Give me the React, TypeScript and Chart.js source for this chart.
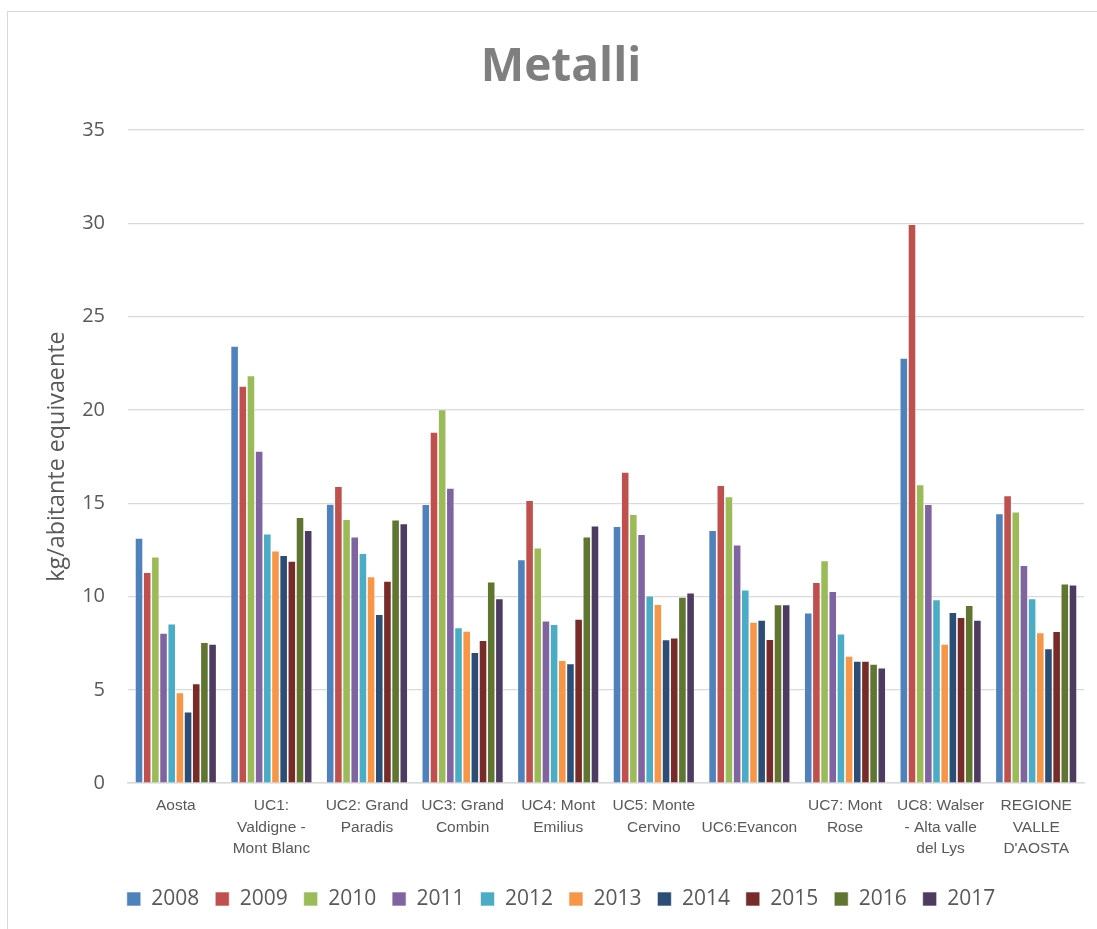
import React, { useEffect, useRef } from "react";
import { Chart, registerables } from "chart.js";

Chart.register(...registerables);

const categories: string[][] = [
  ["Aosta"],
  ["UC1:", "Valdigne -", "Mont Blanc"],
  ["UC2: Grand", "Paradis"],
  ["UC3: Grand", "Combin"],
  ["UC4: Mont", "Emilius"],
  ["UC5: Monte", "Cervino"],
  ["", "UC6:Evancon"],
  ["UC7: Mont", "Rose"],
  ["UC8: Walser", "- Alta valle", "del Lys"],
  ["REGIONE", "VALLE", "D'AOSTA"],
];

const years = ["2008", "2009", "2010", "2011", "2012", "2013", "2014", "2015", "2016", "2017"];

const v2008 = [13.14, 23.43, 14.96, 14.95, 11.98, 13.77, 13.55, 9.13, 22.79, 14.45];
const v2009 = [11.3, 21.29, 15.91, 18.82, 15.16, 16.68, 15.96, 10.77, 29.95, 15.41];
const v2010 = [12.13, 21.84, 14.14, 20.02, 12.61, 14.41, 15.36, 11.93, 16.0, 14.55];
const v2011 = [8.04, 17.8, 13.21, 15.82, 8.7, 13.34, 12.77, 10.29, 14.95, 11.68];
const v2012 = [8.54, 13.36, 12.32, 8.34, 8.52, 10.04, 10.36, 8.0, 9.84, 9.89];
const v2013 = [4.86, 12.46, 11.07, 8.16, 6.59, 9.59, 8.64, 6.82, 7.46, 8.07];
const v2014 = [3.82, 12.21, 9.05, 7.02, 6.41, 7.7, 8.75, 6.55, 9.16, 7.21];
const v2015 = [5.34, 11.91, 10.84, 7.66, 8.8, 7.79, 7.71, 6.54, 8.89, 8.14];
const v2016 = [7.55, 14.25, 14.11, 10.79, 13.2, 9.98, 9.57, 6.39, 9.54, 10.68];
const v2017 = [7.46, 13.55, 13.91, 9.89, 13.79, 10.21, 9.57, 6.18, 8.75, 10.63];

const seriesValues = [v2008, v2009, v2010, v2011, v2012, v2013, v2014, v2015, v2016, v2017];

const colors = [
  "#4F81BD", "#C0504D", "#9BBB59", "#8064A2", "#4BACC6",
  "#F79646", "#2C4D75", "#772C2A", "#5F7530", "#4D3B62",
];

const yTicks = [0, 5, 10, 15, 20, 25, 30, 35];

export default function App() {
  const canvasRef = useRef<HTMLCanvasElement | null>(null);

  useEffect(() => {
    if (!canvasRef.current) return;
    const chart = new Chart(canvasRef.current, {
      type: "bar",
      data: {
        labels: categories,
        datasets: years.map((y, i) => ({
          label: y,
          data: seriesValues[i],
          backgroundColor: colors[i],
          borderColor: "rgba(255,255,255,0.75)",
          borderWidth: 0.8,
          categoryPercentage: 0.855,
          barPercentage: 1,
        })),
      },
      options: {
        responsive: false,
        animation: false,
        devicePixelRatio: 1,
        layout: { padding: { left: 38, right: 46, top: 12, bottom: 9.5 } },
        plugins: {
          title: {
            display: true,
            text: "Metalli",
            color: "#7f7f7f",
            font: { family: "'Open Sans', sans-serif", size: 46, weight: "bold", lineHeight: 1.2 },
            padding: { top: 28, bottom: 34.8 },
          },
          legend: {
            position: "bottom",
            labels: {
              font: { family: "'Open Sans', sans-serif", size: 21 },
              color: "#595959",
              boxWidth: 14,
              boxHeight: 14,
              padding: 15.9,
            },
          },
          tooltip: { enabled: false },
        },
        scales: {
          x: {
            grid: { display: false, drawTicks: false },
            border: { display: true, color: "#d9d9d9", width: 1.5 },
            ticks: {
              font: { family: "'Liberation Sans', Arial, sans-serif", size: 15.5, lineHeight: 1.39 },
              color: "#595959",
              padding: 12.2,
              maxRotation: 0,
              minRotation: 0,
              autoSkip: false,
            },
            afterFit: (s: any) => {
              s.height = 89.5;
            },
          },
          y: {
            min: yTicks[0],
            max: yTicks[yTicks.length - 1],
            ticks: {
              stepSize: 5,
              font: { family: "'Open Sans', sans-serif", size: 20 },
              color: "#595959",
              padding: 23,
            },
            grid: { color: "#d9d9d9", lineWidth: 1.3, drawTicks: false },
            border: { display: false },
            title: {
              display: true,
              text: "kg/abitante equivaente",
              color: "#595959",
              font: { family: "'Open Sans', sans-serif", size: 23.3, lineHeight: 1.2 },
              padding: { top: 5 },
            },
            afterFit: (s: any) => {
              s.width = 90;
            },
          },
        },
      },
    });
    return () => chart.destroy();
  }, []);

  return (
    <div
      style={{
        position: "absolute",
        left: 0,
        top: 0,
        width: 1097,
        height: 929,
        overflow: "hidden",
        background: "#ffffff",
      }}
    >
      <div
        style={{
          position: "absolute",
          left: 7,
          top: 11,
          width: 1200,
          height: 1000,
          border: "1.2px solid #d9d9d9",
        }}
      />
      <canvas
        ref={canvasRef}
        width={1130}
        height={929}
        style={{ position: "absolute", left: 0, top: 0, width: 1130, height: 929 }}
      />
    </div>
  );
}
